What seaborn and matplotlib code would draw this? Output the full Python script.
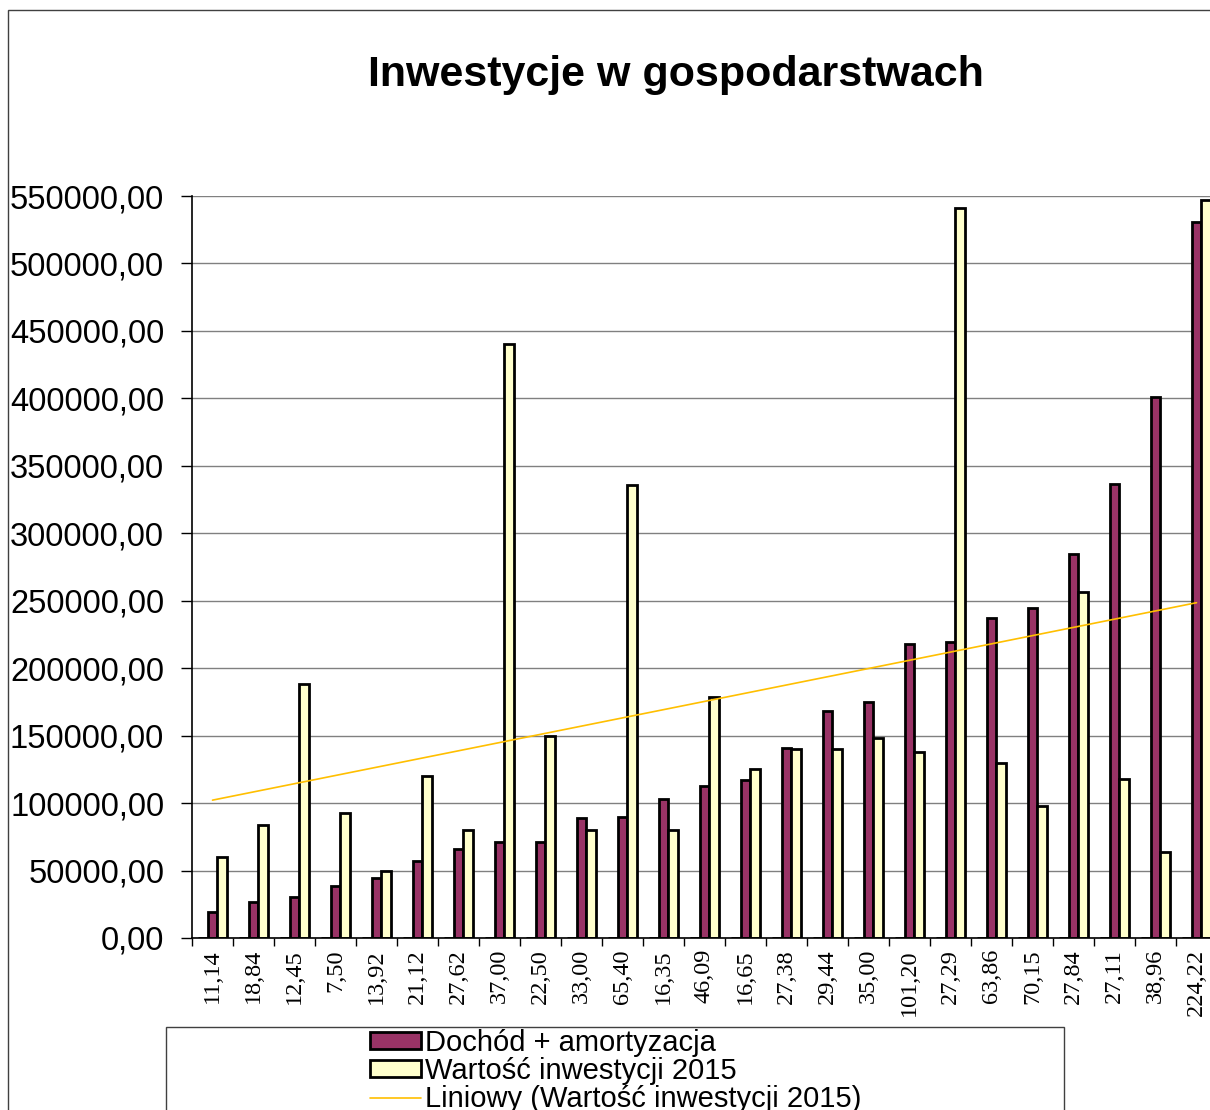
import numpy as np
import pandas as pd
import matplotlib
matplotlib.use('Agg')
import matplotlib.pyplot as plt
import seaborn as sns
from matplotlib.patches import Patch, Rectangle
from matplotlib.lines import Line2D
from matplotlib.ticker import FuncFormatter, MultipleLocator, FixedLocator

# ------------------------------------------------------------
# DATA
# ------------------------------------------------------------
# first series - small values, shown as the category labels too
area_ha = [11.14, 18.84, 12.45, 7.50, 13.92, 21.12, 27.62, 37.00, 22.50, 33.00,
           65.40, 16.35, 46.09, 16.65, 27.38, 29.44, 35.00, 101.20, 27.29, 63.86,
           70.15, 27.84, 27.11, 38.96, 224.22]
categories = [f"{v:.2f}".replace('.', ',') for v in area_ha]

dochod = [19000, 26500, 30700, 38600, 44300, 57400, 66000, 71000, 71500, 89000,
          89500, 102700, 113000, 116800, 141000, 168000, 174900, 217900, 219100, 237200,
          244400, 284600, 336400, 401000, 531000]
inwestycje = [60000, 83800, 188400, 92300, 50000, 120000, 80100, 440000, 150000, 80100,
              335500, 80100, 178300, 125400, 140200, 140200, 148200, 137800, 541000, 129800,
              97900, 256200, 117500, 64100, 547000]

series_names = ['Powierzchnia', 'Dochód + amortyzacja', 'Wartość inwestycji 2015']
series_colors = ['#FFFFFF', '#993366', '#FFFFCC']
trend_label = 'Liniowy (Wartość inwestycji 2015)'
trend_color = '#FFBF00'

df = pd.DataFrame({
    'kategoria': categories * 3,
    'wartosc': area_ha + dochod + inwestycje,
    'seria': [series_names[0]] * 25 + [series_names[1]] * 25 + [series_names[2]] * 25,
})

# ------------------------------------------------------------
# STYLE
# ------------------------------------------------------------
sns.set_style('white')
plt.rcParams['font.family'] = ['Liberation Sans', 'DejaVu Sans']
plt.rcParams['text.color'] = 'black'
plt.rcParams['xtick.color'] = 'black'
plt.rcParams['ytick.color'] = 'black'

W, H = 1210, 1110
fig = plt.figure(figsize=(W / 100, H / 100), dpi=100)
ax = fig.add_axes([192 / W, 1 - 938 / H, 1025 / W, 742 / H])

sns.barplot(data=df, x='kategoria', y='wartosc', hue='seria', order=categories,
            hue_order=series_names, palette=series_colors, width=0.7,
            edgecolor='black', linewidth=2.0, saturation=1, ax=ax, legend=False)

# linear trend of the investment series
xs = np.arange(len(categories))
coef = np.polyfit(xs, inwestycje, 1)
ax.plot(xs, np.polyval(coef, xs), color=trend_color, lw=1.2, zorder=5)

ax.set_xlim(-0.5, len(categories) - 0.5)
ax.set_ylim(0, 550000)
ax.yaxis.set_major_locator(MultipleLocator(50000))
ax.yaxis.set_major_formatter(FuncFormatter(lambda v, p: f"{v:.2f}".replace('.', ',')))
ax.grid(axis='y', color='#808080', lw=1)
ax.set_axisbelow(True)
ax.set_xlabel('')
ax.set_ylabel('')

for s in ['top', 'right']:
    ax.spines[s].set_visible(False)
for s in ['left', 'bottom']:
    ax.spines[s].set_color('black')
    ax.spines[s].set_linewidth(1.2)

ax.tick_params(axis='y', left=True, length=8, width=1, color='black',
               labelsize=23.5, pad=12)
ax.tick_params(axis='x', which='major', length=0, pad=8)
ax.xaxis.set_minor_locator(FixedLocator(np.arange(-0.5, len(categories), 1.0)))
ax.tick_params(axis='x', which='minor', bottom=True, length=6, width=1, color='black')
for lbl in ax.get_xticklabels():
    lbl.set_rotation(90)
    lbl.set_fontfamily(['Liberation Serif', 'DejaVu Serif'])
    lbl.set_fontsize(17.5)

# title
fig.text(676 / W, 1 - 75 / H, 'Inwestycje w gospodarstwach',
         ha='center', va='center', fontsize=31, fontweight='bold')

# outer chart frame (cut off at right and bottom)
fig.patches.append(Rectangle((8 / W, -0.1), 1.2, 1100 / H + 0.1,
                             transform=fig.transFigure, fill=False,
                             edgecolor='#404040', lw=1))
# legend box
fig.patches.append(Rectangle((166 / W, -0.05), (1064 - 166) / W, (1110 - 1027) / H + 0.05,
                             transform=fig.transFigure, fill=False,
                             edgecolor='#404040', lw=1))

handles = [Patch(facecolor=series_colors[1], edgecolor='black', lw=2.0),
           Patch(facecolor=series_colors[2], edgecolor='black', lw=2.0),
           Line2D([0], [0], color=trend_color, lw=1.2)]
labels = [series_names[1], series_names[2], trend_label]
fig.legend(handles, labels, loc='upper left', bbox_to_anchor=(370 / W, 1 - 1029 / H),
           frameon=False, fontsize=21, handlelength=1.75, handleheight=0.5,
           handletextpad=0.15, labelspacing=0.0, borderpad=0, borderaxespad=0)

fig.savefig('out.png', dpi=100)
